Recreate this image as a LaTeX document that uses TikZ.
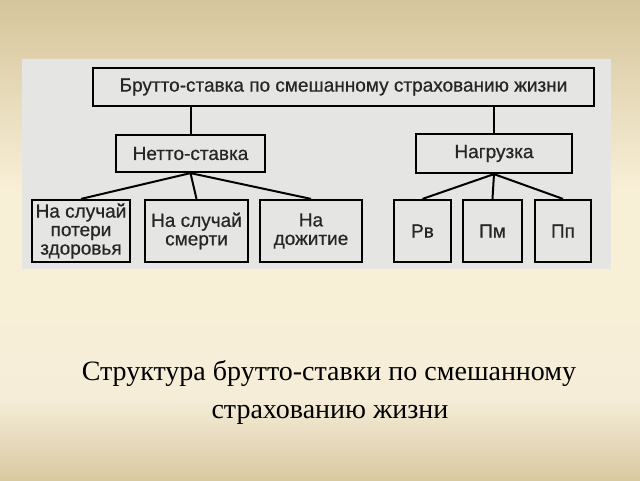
\documentclass[tikz,border=0pt]{standalone}
\usepackage{fontspec}
\setmainfont{Liberation Serif}
\newfontfamily\diagfont[FakeBold=0.6]{Liberation Sans}
\usetikzlibrary{positioning}
\definecolor{tanA}{HTML}{D5C59B}
\definecolor{creamA}{HTML}{F8EFD7}
\definecolor{creamB}{HTML}{F5EDD8}
\definecolor{tanB}{HTML}{D9C9A1}
\definecolor{scan}{HTML}{E5E5E3}
\tikzset{
  box/.style={draw=black, line width=2.2pt, fill=scan, inner sep=0pt, align=center,
    font=\diagfont\fontsize{19}{18.5}\selectfont, text=black!85},
  link/.style={draw=black, line width=2pt},
  captxt/.style={font=\fontsize{28}{30}\selectfont, text=black, inner sep=0pt}
}
\begin{document}
\begin{tikzpicture}[x=1pt,y=-1pt]
\useasboundingbox (0,0) rectangle (640,480);
\shade[top color=tanA, bottom color=creamA] (0,0) rectangle (640,190);
\fill[creamA] (0,189) rectangle (640,300);
\shade[top color=creamA, bottom color=creamB] (0,299) rectangle (640,400);
\shade[top color=creamB, bottom color=tanB] (0,399) rectangle (640,480);
\fill[scan] (22,59) rectangle (611,269);
\node[box, minimum width=501pt, minimum height=38pt] (top) at (343.5,87) {Брутто-ставка по смешанному страхованию жизни};
\node[box, minimum width=149pt, minimum height=37pt] (netto) at (190.5,153.5) {Нетто-ставка};
\node[box, minimum width=156pt, minimum height=39pt] (nagr) at (494,153.5) {Нагрузка};
\node[box, minimum width=98pt, minimum height=62pt] (b1) at (81,231) {На случай\\потери\\здоровья};
\node[box, minimum width=103pt, minimum height=62pt] (b2) at (196.5,231) {На случай\\смерти};
\node[box, minimum width=102pt, minimum height=62pt] (b3) at (311,231) {На\\дожитие};
\node[box, minimum width=57pt, minimum height=62pt] (rv) at (422.5,231) {Рв};
\node[box, minimum width=59pt, minimum height=62pt] (pm) at (492.5,231) {Пм};
\node[box, minimum width=56pt, minimum height=62pt] (pp) at (563,231) {Пп};
\draw[link] (netto.north |- top.south) -- (netto.north);
\draw[link] (nagr.north |- top.south) -- (nagr.north);
\draw[link] (netto.south) -- (b1.north);
\draw[link] (netto.south) -- (b2.north);
\draw[link] (netto.south) -- (b3.north);
\draw[link] (nagr.south) -- (rv.north);
\draw[link] (nagr.south) -- (pm.north);
\draw[link] (nagr.south) -- (pp.north);
\node[captxt, anchor=base] (cap1) at (329,380) {Структура брутто-ставки по смешанному};
\node[captxt, anchor=base] (cap2) at (330,418) {страхованию жизни};
\end{tikzpicture}
\end{document}
